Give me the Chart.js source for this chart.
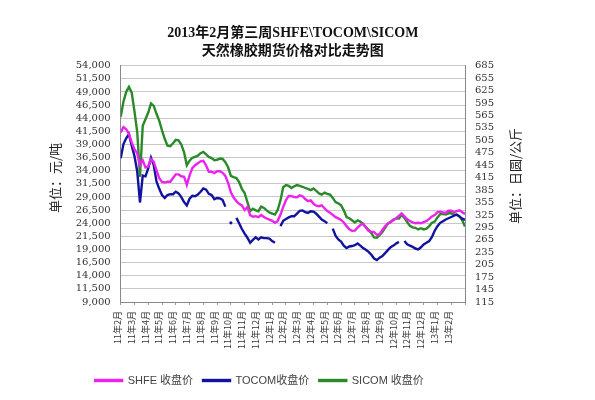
<!DOCTYPE html>
<html><head><meta charset="utf-8">
<script src="https://cdn.jsdelivr.net/npm/chart.js@4"></script>
<style>html,body{margin:0;padding:0;background:#fff}</style>
</head><body>
<canvas id="c" width="595" height="400" style="display:block;width:595px;height:400px"></canvas>
<script>
// ---- data ----
const monthLabels = ['11年2月','11年3月','11年4月','11年5月','11年6月','11年7月','11年8月','11年9月','11年10月','11年11月','11年12月',
  '12年1月','12年2月','12年3月','12年4月','12年5月','12年6月','12年7月','12年8月','12年9月','12年10月','12年11月','12年12月',
  '13年1月','13年2月'];
const STEP = 0.2; // months between samples (approx. weekly)
const shfe = [41300,42300,41900,41000,39400,38100,37300,35100,36000,34600,
  34800,36200,35700,34100,32600,31850,31750,31900,31900,32600,
  33300,33300,32950,32860,31300,33100,34500,35050,35400,35800,
  35900,35000,33810,33810,33550,33900,33900,33600,33000,31700,
  29900,28900,28200,27700,27400,26520,27100,25550,25250,25350,
  25150,25550,25200,24900,24680,24450,24080,24450,25600,27100,
  28400,29200,29150,28990,28930,29300,29150,28600,28200,28350,
  27700,27350,27250,27400,26860,26300,26000,25600,25150,24920,
  24640,24150,23450,22850,22550,22600,23150,23660,23900,23200,
  22550,22390,22300,21800,21900,22700,23400,23950,24230,24560,
  24950,25400,25850,25300,24750,24420,24170,23990,24090,23990,
  24190,24450,24820,25290,25560,26100,26200,26050,26000,26380,
  26380,26100,26300,26450,26100,25760];
const tocom = [462,496,510,520,492,467,430,355,420,418,
  438,463,445,406,388,373,366,373,375,375,
  381,377,368,356,348,364,371,370,374,381,
  389,386,376,373,363,366,365,361,345,null,
  306,null,318,305,291,280,270,258,265,271,
  266,271,269,269,268,262,258,null,298,311,
  315,319,322,322,328,335,336,332,330,334,
  333,328,321,314,310,305,null,292,275,266,
  261,251,245,249,250,252,256,251,245,241,
  236,229,220,216,222,226,233,240,247,251,
  256,260,null,262,254,251,248,244,242,247,
  254,258,262,272,287,298,306,310,314,317,
  320,323,326,321,316,313];
const sicom = [562,598,622,634,620,575,525,417,540,556,
  572,594,588,569,552,529,508,492,491,498,
  506,505,495,476,445,456,463,465,468,474,
  477,471,465,462,457,458,461,460,452,440,
  419,416,414,404,388,378,356,334,340,336,
  334,345,342,336,331,328,326,337,360,392,
  397,395,390,394,397,395,393,390,388,385,
  389,383,377,374,379,376,374,366,356,353,
  348,336,320,317,312,307,312,309,303,296,
  289,281,271,270,276,284,294,304,308,314,
  316,316,325,318,308,299,295,294,290,293,
  290,292,298,306,309,319,327,327,326,329,
  329,326,325,322,312,297];
const seriesNames = ['SHFE 收盘价', 'TOCOM收盘价', 'SICOM 收盘价'];
const titleLines = ['2013年2月第三周SHFE\\TOCOM\\SICOM', '天然橡胶期货价格对比走势图'];
const leftAxisTitle = '单位：元/吨';
const rightAxisTitle = '单位：日圆/公斤';

// ---- styling ----
const PINK = '#EE22EE', BLUE = '#1212A0', GREEN = '#2A8A2A';
const tickFont = {family: '"DejaVu Serif", serif', size: 10};
const cjk = '"Noto Sans CJK SC", sans-serif';

const toPoints = arr => arr.map((v, i) => ({x: Math.round(i * STEP * 10) / 10, y: v}));
const isolatedRadius = ctx => {
  const d = ctx.dataset.data, i = ctx.dataIndex;
  if (!d[i] || d[i].y == null) return 0;
  const p = d[i - 1], n = d[i + 1];
  return ((!p || p.y == null) && (!n || n.y == null)) ? 1.6 : 0;
};
const ds = (label, arr, axis, color) => ({
  label, data: toPoints(arr), yAxisID: axis,
  borderColor: color, backgroundColor: color, borderWidth: 2.4,
  pointRadius: isolatedRadius, pointBackgroundColor: color, pointBorderWidth: 0,
  pointHoverRadius: 0, tension: 0, spanGaps: false
});

const axisTitles = {
  id: 'axisTitles',
  afterDraw(chart) {
    const {ctx} = chart;
    ctx.save();
    ctx.font = '13px ' + cjk;
    ctx.fillStyle = '#222';
    ctx.textAlign = 'center';
    ctx.textBaseline = 'middle';
    [[leftAxisTitle, 55, 178], [rightAxisTitle, 515, 176]].forEach(([t, x, y]) => {
      ctx.save(); ctx.translate(x, y); ctx.rotate(-Math.PI / 2); ctx.fillText(t, 0, 0); ctx.restore();
    });
    ctx.restore();
  }
};

new Chart(document.getElementById('c'), {
  type: 'line',
  data: {datasets: [
    ds(seriesNames[0], shfe, 'y', PINK),
    ds(seriesNames[1], tocom, 'y1', BLUE),
    ds(seriesNames[2], sicom, 'y1', GREEN)
  ]},
  plugins: [axisTitles],
  options: {
    responsive: false, animation: false, devicePixelRatio: 1, events: [],
    layout: {padding: {left: 0, right: 76, top: 0, bottom: 4}},
    plugins: {
      title: {display: true, text: titleLines, fullSize: false, color: '#111',
        font: {family: '"Liberation Serif", ' + cjk, size: 14, weight: 'bold', lineHeight: 18 / 14},
        padding: {top: 24, bottom: 5.7}},
      legend: {position: 'bottom',
        labels: {boxWidth: 27, boxHeight: 1, padding: 10, color: '#444',
          font: {family: '"Liberation Sans", ' + cjk, size: 11}}},
      tooltip: {enabled: false}
    },
    scales: {
      x: {type: 'linear', min: 0, max: monthLabels.length,
        afterFit: s => { s.height = 63; },
        grid: {drawOnChartArea: false, tickLength: 3, color: '#999'},
        border: {color: '#888'},
        ticks: {stepSize: 1, maxTicksLimit: 40, autoSkip: false, maxRotation: 90, minRotation: 90,
          labelOffset: -3, padding: 6, color: '#333',
          font: {family: cjk, size: 9},
          callback: v => Number.isInteger(v) && v < monthLabels.length ? monthLabels[v] : ''}},
      y: {position: 'left', min: 9000, max: 54000,
        afterFit: s => { s.width = 120.7; },
        grid: {color: '#c8c8c8', drawTicks: false},
        border: {color: '#888'},
        ticks: {stepSize: 2500, autoSkip: false, padding: 10, color: '#333', font: tickFont}},
      y1: {position: 'right', min: 115, max: 685,
        afterFit: s => { s.width = 54; },
        grid: {drawOnChartArea: false, drawTicks: false},
        border: {color: '#888'},
        ticks: {stepSize: 30, autoSkip: false, padding: 10, color: '#333', font: tickFont}}
    }
  }
});
</script>
</body></html>
